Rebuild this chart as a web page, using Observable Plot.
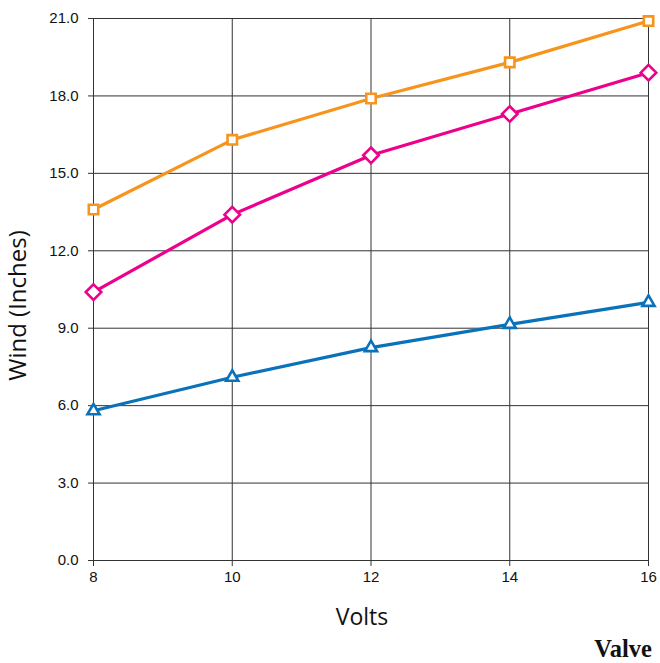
<!DOCTYPE html>
<html>
<head>
<meta charset="utf-8">
<script src="https://cdn.jsdelivr.net/npm/d3@7"></script>
<script src="https://cdn.jsdelivr.net/npm/@observablehq/plot@0.6"></script>
<style>
  html, body { margin: 0; padding: 0; background: #fff; }
  #wrap { position: relative; width: 660px; height: 663px; }
  #caption { position: absolute; right: 8px; top: 636px; font-family: "Liberation Serif", serif; font-weight: bold; font-size: 24.5px; line-height: 25px; color: #111; }
</style>
</head>
<body>
<div id="wrap"><div id="chart"></div><div id="caption">Valve</div></div>
<script>
const volts = [8, 10, 12, 14, 16];
const seriesOrange = [13.6, 16.3, 17.9, 19.3, 20.9];
const seriesPink = [10.4, 13.4, 15.7, 17.3, 18.9];
const seriesBlue = [5.8, 7.1, 8.25, 9.15, 10.0];
const yTicks = [0, 3, 6, 9, 12, 15, 18, 21];
const yLabel = "Wind (Inches)";
const xLabel = "Volts";

const toRows = (vals) => volts.map((v, i) => ({x: v, y: vals[i]}));
const orange = toRows(seriesOrange);
const pink = toRows(seriesPink);
const blue = toRows(seriesBlue);

const cOrange = "#F7941D", cPink = "#EC008C", cBlue = "#0A72BA";

const chart = Plot.plot({
  width: 660,
  height: 630,
  marginLeft: 93,
  marginRight: 12,
  marginTop: 18,
  marginBottom: 70,
  style: {fontFamily: "Liberation Sans, Arial, sans-serif", fontSize: "15px", color: "#111", background: "white", overflow: "visible"},
  x: {domain: [8, 16]},
  y: {domain: [0, 21]},
  marks: [
    Plot.gridY(yTicks, {stroke: "#333", strokeOpacity: 1, strokeWidth: 1}),
    Plot.gridX(volts, {stroke: "#333", strokeOpacity: 1, strokeWidth: 1}),
    Plot.axisY({ticks: yTicks, tickFormat: d => d.toFixed(1), tickSize: 5, tickPadding: 10, label: null, stroke: "#333"}),
    Plot.axisX({ticks: volts, tickFormat: d => String(d), tickSize: 6, tickPadding: 5, label: null, stroke: "#333"}),
    Plot.ruleX([8], {stroke: "#333"}),
    Plot.ruleY([0], {stroke: "#333"}),
    Plot.lineY(orange, {x: "x", y: "y", stroke: cOrange, strokeWidth: 3.2}),
    Plot.lineY(pink, {x: "x", y: "y", stroke: cPink, strokeWidth: 3.2}),
    Plot.lineY(blue, {x: "x", y: "y", stroke: cBlue, strokeWidth: 3.2}),
    Plot.dot(orange, {x: "x", y: "y", symbol: "square2", r: 6, fill: "white", stroke: cOrange, strokeWidth: 2.6}),
    Plot.dot(pink, {x: "x", y: "y", symbol: "diamond2", r: 7, fill: "white", stroke: cPink, strokeWidth: 2.6}),
    Plot.dot(blue, {x: "x", y: "y", symbol: "triangle2", r: 5.8, fill: "white", stroke: cBlue, strokeWidth: 2.6}),
    Plot.text([xLabel], {frameAnchor: "bottom", lineAnchor: "middle", dx: -9, dy: 57, fontSize: 23, fontFamily: "Open Sans", fill: "#111"}),
    Plot.text([yLabel], {frameAnchor: "left", textAnchor: "middle", lineAnchor: "middle", rotate: -90, dx: -75, dy: 16, fontSize: 24, fontFamily: "Open Sans", fill: "#111"})
  ]
});
document.getElementById("chart").appendChild(chart);
</script>
</body>
</html>
